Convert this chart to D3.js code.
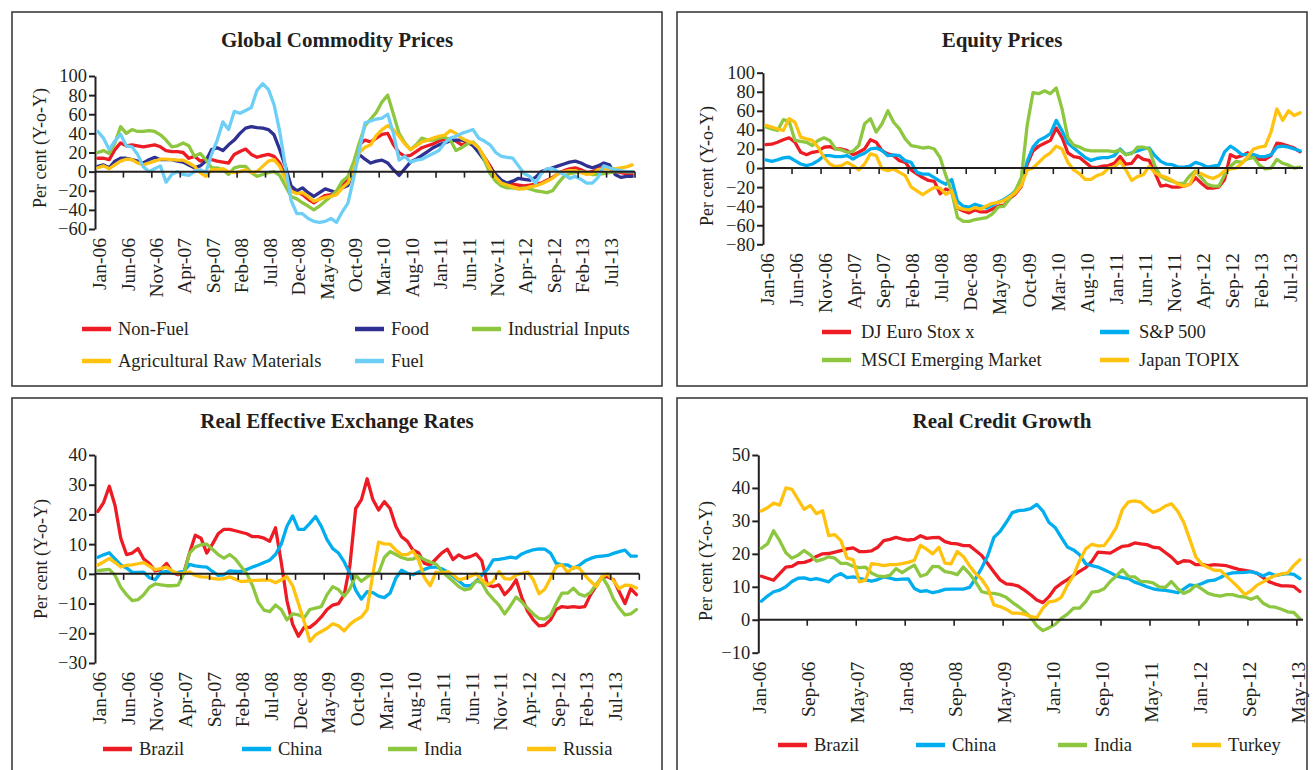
<!DOCTYPE html>
<html><head><meta charset="utf-8">
<script src="https://cdn.jsdelivr.net/npm/d3@7"></script>
<style>
body{margin:0;background:#fff}
svg{display:block}
text{font-family:"Liberation Serif","Times New Roman",serif;fill:#231f20}
</style>
</head><body>
<svg id="c" width="1316" height="770"></svg>
<script>
// ---------- categories & tick labels ----------
const months = d3.utcMonth.range(new Date(Date.UTC(2006,0,1)), new Date(Date.UTC(2014,0,1))).map(d3.utcFormat("%b-%y"));
const ticks5 = ["Jan-06","Jun-06","Nov-06","Apr-07","Sep-07","Feb-08","Jul-08","Dec-08","May-09","Oct-09","Mar-10","Aug-10","Jan-11","Jun-11","Nov-11","Apr-12","Sep-12","Feb-13","Jul-13"];
const ticks8 = ["Jan-06","Sep-06","May-07","Jan-08","Sep-08","May-09","Jan-10","Sep-10","May-11","Jan-12","Sep-12","May-13"];
const yTicks1 = [-60,-40,-20,0,20,40,60,80,100];
const yTicks2 = [-80,-60,-40,-20,0,20,40,60,80,100];
const yTicks3 = [-30,-20,-10,0,10,20,30,40];
const yTicks4 = [-10,0,10,20,30,40,50];

// ---------- Global Commodity Prices (Jan-06 .. Nov-13) ----------
const nonFuel = [14,14,12.5,23,30,27,28,27,26,27,28,26,22,21,21,20,14,16,11,12.5,12.5,11,10,9,18,21,23.6,18,15,16.7,18,16,9,-5,-19.5,-21.5,-24,-29,-32.6,-28.5,-25,-24,-22,-15,-8,
 6,28,33,31,35,39,40,28,20,16,17,21,25,27,29,32,34,34,32,28,30,28,24,15,6,-4,-10,-13,-13,-14,-15,-14,-13,-12,-9,-6,-2,1,3,4,2,-1,0,3,5,4,0,-1,-2,-3];
const food = [5.5,7,4,11,14,14,12.5,11,9,12.5,15,12.5,12.5,12.5,11,10,7,4,6,11,23,25,22,28,33,40,45.5,47,46,45.5,44,38.5,23,5.5,-15,-20,-17,-22,-26,-22,-18,-20,-22,-17,-14.5,
 3,18,13,9,11,12,9,2,-4,3,10,13,17,21,25,28,30,32,33,33,32,27,20,12,4,-3,-9,-12,-10,-7,-8,-9,-6,0,2,4,6,8,10,11,9,6,4,6,9,7,-3,-6,-5,-5];
const industrial = [20,22,19,30,47,40,44,42,42,43,42,38.5,33,26,27,30,27,16,19,12.5,4,4,2,-3,4,5.5,5.5,-1,-5,-3,-1,0,-4,-15,-26,-28.5,-32.6,-36,-40,-36,-31,-26,-20,-10,-5,
 10,30,48,55,62,73,80,60,40,30,23,28,35,33,33,35,36,33,22,25,29,31,25,12,-2,-10,-15,-17,-17,-18,-17,-18,-20,-21,-22,-20,-12,-5,-2,-1,0,-1,-3,-3,-2,-1,0,0,0,0];
const agriRaw = [4,6,3,7,11,13,12.5,9,7,9,11,13,13,12.5,12,12,9,5.5,-1,-5,2,2,3,0,-1,0,2,-1,0,5.5,11,12.5,5.5,-8,-20.5,-23,-22,-26,-31,-29,-27,-26,-24,-17,-12,
 2,20,25.5,28,38,44,48,44,37,29,23,27,31,33,35,37,38,43,40,35,32,30,25,15,3,-6,-12,-14,-16,-18,-18,-16,-15,-13,-10,-7,-2,0,1,1,-1,-3,-2,2,3,3,3,4,5,7];
const fuel = [42,35,23,32,39,27,26,18,5,0,3,6,-11,-3,0,-3,-4,0,2,-1,18,33,52,44,63,61,64,67,85,92,86,70,42,5,-30,-44,-44,-49,-52,-53,-52,-49,-53,-42,-33,
 -7,22,51,53,55,56,60,40,12,16,10,12,13,16,19,22,30,35,37,40,42,44,35,32,28,20,16,15,14,6,-2,-5,-12,-2,3,3,0,-3,-7,-5,-8,-12,-12,-6,6,4,2,1,0,0];

// ---------- Equity Prices (Jan-06 .. Sep-13) ----------
const djEuro = [24.6,25,27,29.6,31.7,27,16.5,14,16.5,17.6,21.8,22.5,20,20,18.3,14,16.5,20,29.6,27,18.3,14.8,13,7.7,6,-2,-6,-10,-13,-14,-27,-22,-25,-42,-45,-47,-44,-46,-46,-43,-40,
 -39,-32,-27,-19,4,18,23,26,29,42,32,16,12,11,6,1,0.5,2,2.5,5,12,4,5,13,9,8,-5,-19,-18,-20,-20,-19,-17,-10,-16,-21,-21,-20,-12,14,11,13,16,12,9,9,13,26,25,23,21,17];
const sp500 = [8.5,7,8.5,10.6,11.3,7.7,4.2,2.5,4.2,7.7,13,13,12,12,13,9.5,13,15.5,20,21,18.3,13,13.7,13,7.7,6,-4.6,-6.3,-6.3,-10,-14,-17,-12,-35,-40,-41,-38,-40,-42,-39,-36,
 -33,-29,-24,-17,7,22,29,32,36,50,39,26,21,16,11,8,10,11,11,13,20,14,16,18,20,21,13,7,4,3.5,1,1,2,6,4,1,2,3,17,23,19,14,14,14,12,12,14,22,23,22,20,18];
const msciEM = [43,41,39.4,50.7,49,29,28,27,23.6,29,31.7,29,20,19,16.5,17.6,23.6,46.5,51.8,37.7,46.5,60,48,41,30.6,23.6,22.5,21,21.8,20,11,-8,-25,-52,-56,-56,-54,-53,-52,-48,-41,
 -40,-32,-23,-10,45,79,78,81,78,84,62,32,24,22,19,18,18,18,18,17,19,14,15,22,22,20,2,-9,-12,-14,-16,-16,-8,-3,-10,-17,-19,-19,-7,2,7,6,10,11,3,-1,0,9,5,3,0,1];
const topix = [44.7,43,41,39.4,51.8,48,32.4,30.6,29,21.8,11.3,4.2,1.4,2.5,6,2.5,-2,4.2,14.8,13,-1,-2.8,-1,-4.6,-8,-19.7,-24,-28,-24,-20.4,-21,-27.5,-24,-41.5,-43,-44,-41.5,-43,-39.8,-37,-36,
 -34,-30,-26,-18,-2,0,6,12,16,23,20,6,-2,-6,-12,-12,-8,-6,0,1,7,-2,-13,-9,-7,2,-5,-8,-10,-13,-17,-19,-17,-4,-6,-9,-11,-8,-3,-1,0,5,12,20,22,23,38,62,50,60,55,58];

// ---------- Real Effective Exchange Rates (Jan-06 .. Nov-13) ----------
const reerBrazil = [21,24,29.5,23,12,6.5,7,8.5,5,3.5,1,1.5,3.5,0.5,-0.3,0.3,7,13,12,7,10,13.5,15,15,14.5,14,13.5,12.5,12.5,12,11,15.5,4,-9,-17,-21,-18,-18,-16.5,-14.5,-12,-10.5,-10,-7,3,
 22,25,32,25,21.5,24.3,22,16,12.5,11,8,7,3.5,3,5,7,8.3,4.8,6.4,5.3,5.8,6.7,4.5,-3.7,-4.3,-3.7,-7,-5,-2,-8,-12.5,-15.5,-17.5,-17.3,-15.5,-12,-11,-11.3,-11,-11.3,-11,-7,-4,-1,-1,-2,-6,-10,-5,-7];
const reerChina = [5.6,6.4,7.1,5,3,2,0.5,0.5,0.6,-1.3,-2,0.5,0.8,0.3,0.5,0.8,3.2,2.7,2.4,2.3,0.8,-0.5,-0.3,1,0.8,0.8,1.5,2.3,3,3.8,4.6,6.5,10,16,19.5,15,15,17,19.3,16,11.5,8.5,7,4,0,
 -5.5,-8.5,-6,-6.3,-7.5,-8,-6.5,-1.5,1.2,0.2,-0.3,0.6,1.5,2.2,2.3,1.7,0.7,-0.9,-2.4,-4,-4,-2.6,-0.5,1.5,4.7,4.9,5.2,5.6,5.3,6.7,7.5,8.1,8.4,8.3,7,3.5,3,3,1.9,2.8,4.3,5.2,5.8,6,6.2,6.9,7.5,8,6,6];
const reerIndia = [1.1,1.3,1.5,-0.5,-4.5,-7,-9,-8.7,-7,-4.5,-3.4,-3.7,-4,-4,-3.8,0,7,9,9.8,10,8.3,6.5,5.3,6.5,5,2.5,0,-4,-9.5,-12.2,-12.7,-10.5,-12,-15.5,-13.5,-13.8,-14.8,-12,-11.5,-11,-7,-4.3,-5.3,-7.5,-5,
 -0.5,-2.5,-1,0,0.3,5.5,7.5,6.5,5.5,4.9,5,6,4.8,4,3.3,1,-0.8,-2.5,-4.3,-5.4,-5,-2.3,-3,-6.3,-8.5,-10.5,-13.5,-10.8,-7.8,-9.5,-11.5,-13.5,-15,-15.2,-14,-10,-6.5,-6.5,-4.8,-6.8,-7.5,-6.2,-3.5,-1,-4,-8.5,-11.5,-13.8,-13.5,-12];
const reerRussia = [3,4,5.2,3.8,2.3,2.9,3,3.4,3.8,2.6,1.4,1.8,2.3,1,0.1,0.2,0.7,-0.5,-1,-1.1,-1.5,-1.8,-1.6,-1,-1.8,-2.6,-2.4,-2.2,-2.2,-2,-2.1,-3,-2,-1,-4,-10,-16,-22.7,-20.5,-19.4,-18.3,-16.8,-17.5,-19.2,-17,
 -15.5,-14.5,-12,0,10.7,10.1,10,8,6.5,6.5,7.7,4.5,-1.3,-4,0.6,0.2,0.8,-0.3,-2,-1.5,-0.9,0.1,-2,-3.7,-2.5,0.8,-1.6,-1.8,-0.4,0.2,0.6,-2,-6.7,-5.2,-1.5,2.5,3,0.5,2.2,2,-0.5,-2.5,-4.3,-0.8,0,-2.3,-5,-3.8,-3.9,-4.8];

// ---------- Real Credit Growth (Jan-06 .. May-13) ----------
const creditBrazil = [13.2,12.6,12,14,16,16.2,17.3,17.4,18,19.2,20,20.1,20.5,21,21.5,21.8,20.7,20.7,20.9,22,24,24.4,25,24.5,24.2,24.4,25.5,24.7,24.9,25,23.7,23.2,23,22.5,22.5,21,19.5,17,14.5,12.1,
 10.9,10.7,10.2,9,7.6,6,5.2,7,9.6,11,12.2,13.5,14.7,15.8,17.7,20.5,20.4,20.2,21.3,22.3,22.5,23.3,23,22.8,22,21.8,20.4,19,17.1,17.9,17.8,16.7,16.7,16.4,16.7,16.6,16.4,15.8,15.3,15,14.7,14.1,12.8,11.5,10.8,10.3,10.3,10.1,8.6];
const creditChina = [5.6,7.2,8.5,9,10,11.6,12.6,12.7,12.2,12.5,12,11.5,13.2,14,12.8,13,12.6,12.1,11.7,12.2,13,12.6,12.2,12.3,12.4,9.5,8.6,8.8,8.2,8.6,9.2,9.3,9.3,9.3,9.8,12.5,15.7,19.5,25,26.8,
 29.5,32.5,33.1,33.3,33.7,35,33,29.5,28,25,22.1,21.2,19.7,17,16.4,16,15.2,14.3,13.3,12.8,12.5,11.4,10.8,10,9.4,9.1,8.9,8.6,8.2,9.3,10.6,10.3,11,11.8,12,12.8,13.8,14.2,14.3,14.4,14.6,14.1,13.3,14.2,13.4,13.8,14,13.8,12.5];
const creditIndia = [21.7,23,27,24,20.3,18.7,19.6,21,19.7,17.8,18.3,19.1,18.7,17.1,17.1,16.2,15.8,16,14.2,13.3,13.1,13.5,15.5,14.3,15.5,16.6,13.2,13.8,16.2,16.1,14.6,14.3,13.7,16,14,11.5,8.5,8.1,8,7.6,
 6.8,5.3,4,2.5,0.8,-1.8,-3.3,-2.4,-1.4,0.4,1.7,3.5,3.5,5.5,8.4,8.6,9.4,11.6,13.3,15.2,13.1,13,11.6,11.6,11.2,10,9.8,11.6,9.5,8,8.8,10.5,9.3,8,7.5,7.2,7.6,7.6,7.1,6.9,6.2,7,5,4,3.8,3.2,2.4,2.2,0.3];
const creditTurkey = [33,34,35.4,34.8,40,39.6,36.5,33.5,34.7,32.2,33.1,25.5,25.8,24,18.7,18.2,11.5,12,17,16.8,16.4,16.7,16.7,17,17.4,18,22.6,21.4,20,22,17.2,17,20.7,19.2,16.4,14,12.3,9.5,4.5,4,
 3.2,2,2,1.7,1,0.6,3.5,5.4,5.7,6.8,10.5,13.4,18,21.5,22.9,22.4,22.5,25,28,33.5,35.8,36.1,35.7,34,32.6,33.3,34.5,35.2,33,29.6,24.4,19,16.8,15.9,15,15,13.2,11.5,9.7,7.6,8.8,10.5,11.5,12.6,13.4,13.9,14.2,16.5,18.2];

// ---------- colours ----------
const C = {red:"#ED1C24", navy:"#2E3192", green:"#8DC63F", yellow:"#FFC20E", sky:"#6DCFF6", cyan:"#00AEEF"};

const panels = [
 {box:[12,12,662,386], title:"Global Commodity Prices", titleX:337, titleY:47,
  x0:95, x1:635, yTop:76, yBottom:229, yDomain:[-60,100], yTicks:yTicks1, yTitleX:40, yTitleY:148,
  xLabels:ticks5, step:5, lshift:1.5,
  series:[{name:"Non-Fuel",v:nonFuel,c:C.red},{name:"Food",v:food,c:C.navy},{name:"Industrial Inputs",v:industrial,c:C.green},
          {name:"Agricultural Raw Materials",v:agriRaw,c:C.yellow},{name:"Fuel",v:fuel,c:C.sky}],
  legend:[[82,329],[355,329],[472,329],[82,361],[355,361]], lgap:36},
 {box:[677,12,1307,386], title:"Equity Prices", titleX:1002, titleY:47,
  x0:763, x1:1303, yTop:72.7, yBottom:244.3, yDomain:[-80,100], yTicks:yTicks2, yTitleX:707, yTitleY:166,
  xLabels:ticks5, step:5, lshift:1.5,
  series:[{name:"DJ Euro Stox x",v:djEuro,c:C.red},{name:"S&P 500",v:sp500,c:C.cyan},{name:"MSCI Emerging Market",v:msciEM,c:C.green},{name:"Japan TOPIX",v:topix,c:C.yellow}],
  legend:[[822,332],[1100,332],[822,360],[1100,360]], lgap:39},
 {box:[12,398,662,790], title:"Real Effective Exchange Rates", titleX:337, titleY:428,
  x0:95, x1:639.3, yTop:455, yBottom:663, yDomain:[-30,40], yTicks:yTicks3, yTitleX:41, yTitleY:559,
  xLabels:ticks5, step:5, lshift:1.5,
  series:[{name:"Brazil",v:reerBrazil,c:C.red},{name:"China",v:reerChina,c:C.cyan},{name:"India",v:reerIndia,c:C.green},{name:"Russia",v:reerRussia,c:C.yellow}],
  legend:[[103,749],[242,749],[388,749],[527,749]], lgap:36},
 {box:[677,398,1307,790], title:"Real Credit Growth", titleX:1002, titleY:428,
  x0:758.3, x1:1303, yTop:455, yBottom:652.7, yDomain:[-10,50], yTicks:yTicks4, yTitleX:706, yTitleY:561,
  xLabels:ticks8, step:8, lshift:-2,
  series:[{name:"Brazil",v:creditBrazil,c:C.red},{name:"China",v:creditChina,c:C.cyan},{name:"India",v:creditIndia,c:C.green},{name:"Turkey",v:creditTurkey,c:C.yellow}],
  legend:[[778,745],[916,745],[1058,745],[1192,745]], lgap:36}
];

const svg = d3.select("#c");

panels.forEach(p => {
  const g = svg.append("g");
  g.append("rect").attr("x",p.box[0]).attr("y",p.box[1]).attr("width",p.box[2]-p.box[0]).attr("height",p.box[3]-p.box[1])
    .attr("fill","none").attr("stroke","#3c3c3c").attr("stroke-width",1.6);
  g.append("text").attr("x",p.titleX).attr("y",p.titleY).attr("text-anchor","middle")
    .attr("font-size",21).attr("font-weight","bold").text(p.title);

  const n = p.series[0].v.length;
  const cats = months.slice(0,n);
  const band = d3.scaleBand().domain(cats).range([p.x0,p.x1]);
  const xc = d => band(d) + band.bandwidth()/2;
  const y = d3.scaleLinear().domain(p.yDomain).range([p.yBottom,p.yTop]);

  // y axis
  const ya = g.append("g").attr("transform",`translate(${p.x0},0)`)
    .call(d3.axisLeft(y).tickValues(p.yTicks).tickSize(6).tickSizeOuter(0).tickPadding(2).tickFormat(d3.format("d")));
  ya.attr("font-family",null).attr("font-size",null);
  ya.selectAll("path,line").attr("stroke","#231f20").attr("stroke-width",2);
  ya.selectAll("text").attr("font-size",18.5).attr("fill","#231f20");

  g.append("text").attr("transform",`translate(${p.yTitleX},${p.yTitleY}) rotate(-90)`)
    .attr("text-anchor","middle").attr("dy","0.35em").attr("font-size",18).text("Per cent (Y-o-Y)");

  // series
  const line = d3.line().x((d,i)=>xc(cats[i])).y(d=>y(d));
  p.series.forEach(s => {
    g.append("path").attr("d",line(s.v)).attr("fill","none").attr("stroke",s.c)
      .attr("stroke-width",3.3).attr("stroke-linejoin","round").attr("stroke-linecap","round");
  });

  // category axis at zero
  const y0 = y(0);
  g.append("line").attr("x1",p.x0).attr("x2",p.x1).attr("y1",y0).attr("y2",y0).attr("stroke","#231f20").attr("stroke-width",2);
  const tickCats = cats.filter((c,i)=> i>0 && i % p.step === 0);
  g.selectAll("line.xt").data(tickCats).join("line").attr("class","xt")
    .attr("x1",d=>band(d)).attr("x2",d=>band(d)).attr("y1",y0).attr("y2",y0+6).attr("stroke","#231f20").attr("stroke-width",1.6);
  if (n % p.step === 0) {
    g.append("line").attr("x1",p.x1).attr("x2",p.x1).attr("y1",y0).attr("y2",y0+6).attr("stroke","#231f20").attr("stroke-width",1.6);
  }
  g.selectAll("text.xl").data(p.xLabels.filter(l=>cats.includes(l))).join("text").attr("class","xl")
    .attr("transform",d=>`translate(${xc(d)+p.lshift},${p.yBottom+9}) rotate(-90)`)
    .attr("text-anchor","end").attr("dy","0.35em").attr("font-size",19.5).text(d=>d);

  // legend
  p.series.forEach((s,k) => {
    const [lx,ly] = p.legend[k];
    g.append("line").attr("x1",lx).attr("x2",lx+29).attr("y1",ly).attr("y2",ly).attr("stroke",s.c).attr("stroke-width",4.5);
    g.append("text").attr("x",lx+p.lgap).attr("y",ly).attr("dy","0.35em").attr("font-size",18.5).text(s.name);
  });
});
</script>
</body></html>
